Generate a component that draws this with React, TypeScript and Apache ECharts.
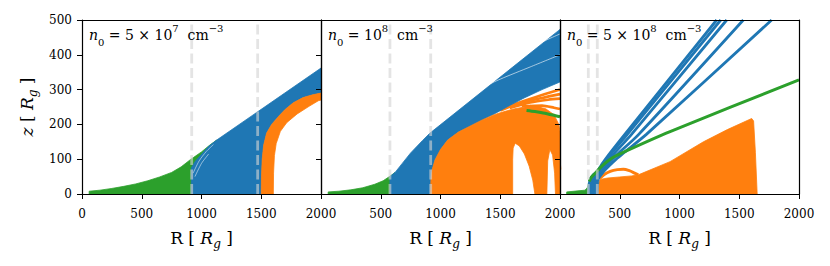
import React, { useEffect, useRef } from 'react';
import * as echarts from 'echarts';

const BLUE = '#1f77b4';
const ORANGE = '#ff7f0e';
const GREEN = '#2ca02c';
const DASH = 'rgba(211,211,211,0.62)';
const STREAK = 'rgba(255,255,255,0.75)';
const FONT = 'DejaVu Serif';

// ---------- axis ranges ----------
const X_MIN = 0, X_MAX = 2000, X_STEP = 500;
const Y_MIN = 0, Y_MAX = 500, Y_STEP = 100;

// ---------- panel titles (density n0) ----------
const PANEL_MANTISSA = ['5 × 10', '10', '5 × 10'];
const PANEL_EXPONENT = ['7', '8', '8'];

// ---------- dashed vertical markers (R) ----------
const P1_DASHES = [918, 1470];
const P2_DASHES = [577, 918];
const P3_DASHES = [237, 312];

// ---------- panel 1 : n0 = 5e7 ----------
const P1_GREEN = [[60, 0], [60, 8], [150, 11], [250, 16], [350, 22], [450, 29], [550, 38], [650, 49], [750, 62], [830, 78], [904, 98], [950, 109], [1000, 121], [1060, 138], [1127, 155], [1127, 0]];
const P1_BLUE = [[915, 0], [915, 75], [950, 95], [1000, 114], [1060, 137], [1127, 155], [2000, 362], [2000, 290], [1930, 285], [1850, 277], [1768, 262], [1700, 243], [1650, 225], [1587, 200], [1545, 175], [1520, 140], [1508, 100], [1502, 50], [1500, 0]];
const P1_ORANGE = [[1500, 0], [1502, 50], [1508, 100], [1520, 140], [1545, 175], [1587, 200], [1650, 225], [1700, 243], [1768, 262], [1850, 277], [1930, 285], [2000, 290], [2000, 270], [1978, 268], [1900, 252], [1800, 230], [1713, 205], [1660, 180], [1625, 145], [1610, 110], [1603, 60], [1601, 0]];
const P1_STREAKS = [
  [[930, 60], [980, 95], [1040, 122], [1100, 142]],
  [[945, 50], [1000, 88], [1060, 115]],
];

// ---------- panel 2 : n0 = 1e8 ----------
const P2_GREEN = [[60, 0], [60, 6], [150, 8], [250, 12], [350, 18], [450, 28], [520, 38], [577, 51], [620, 62], [620, 0]];
const P2_BLUE = [[577, 0], [577, 50], [620, 62], [680, 88], [750, 118], [850, 154], [912, 175], [2000, 473], [2000, 322], [1850, 300], [1700, 276], [1560, 251], [1450, 230], [1350, 213], [1247, 195], [1150, 178], [1060, 155], [1000, 128], [954, 98], [930, 70], [920, 40], [918, 0]];
const P2_ORANGE = [[918, 0], [920, 40], [930, 70], [954, 98], [1000, 128], [1060, 155], [1150, 178], [1247, 195], [1350, 213], [1450, 228], [1526, 236], [1620, 245], [1721, 251], [1800, 252], [1880, 245], [1950, 228], [1990, 200], [2000, 180], [2000, 0], [1962, 0], [1955, 60], [1938, 112], [1915, 128], [1897, 95], [1890, 0], [1790, 0], [1772, 40], [1742, 80], [1702, 115], [1660, 138], [1625, 146], [1608, 132], [1604, 100], [1604, 0]];
const P2_ORANGE_ARCS = [
  [[1450, 236], [1600, 256], [1800, 279], [2000, 300]],
  [[1500, 240], [1650, 259], [1850, 276], [2000, 287]],
  [[1580, 247], [1750, 263], [1900, 271], [2000, 274]],
  [[1680, 252], [1850, 254], [1950, 248], [2000, 244]],
  [[1750, 253], [1880, 238], [1955, 195], [1988, 125], [2000, 70]],
];
const P2_GREEN_LINE = [[1720, 240], [1790, 237], [1860, 233], [1940, 227], [2000, 222]];
const P2_STREAKS = [
  [[1500, 385], [1750, 422], [2000, 460]],
  [[1250, 290], [1500, 330], [1750, 365], [2000, 400]],
];

// ---------- panel 3 : n0 = 5e8 ----------
const P3_GREEN = [[56, 0], [56, 6], [150, 9], [209, 11], [228, 18], [245, 36], [262, 48], [285, 56], [310, 60], [310, 0]];
const P3_BLUE = [[232, 0], [236, 30], [250, 48], [280, 60], [318, 68], [330, 50], [322, 25], [318, 0]];
const P3_BLUE_LINES = [
  [[290, 50], [340, 80], [420, 118], [544, 172], [1311, 500]],
  [[295, 48], [345, 79], [430, 117], [565, 172], [1345, 500]],
  [[300, 45], [355, 76], [445, 113], [600, 172], [1395, 500]],
  [[305, 42], [365, 72], [460, 108], [655, 170], [1534, 500]],
  [[310, 40], [380, 70], [470, 100], [540, 120], [725, 172], [1771, 500]],
];
const P3_GREEN_LINE = [[245, 36], [262, 48], [293, 59], [350, 80], [420, 100], [520, 118], [921, 179], [2000, 328]];
const P3_ORANGE = [[320, 0], [322, 30], [335, 42], [400, 46], [500, 49], [600, 52], [655, 55], [921, 93], [1200, 150], [1400, 185], [1604, 217], [1620, 210], [1635, 120], [1650, 0]];
const P3_ORANGE_LOOP = [[330, 44], [370, 56], [420, 65], [480, 70], [530, 71], [580, 67], [620, 61], [655, 55]];

const GRID_LEFT = [82, 321, 560];

function polygon(idx: number, pts: number[][], color: string, z: number) {
  return {
    type: 'custom',
    xAxisIndex: idx,
    yAxisIndex: idx,
    z,
    silent: true,
    clip: true,
    data: pts,
    renderItem: (params: any, api: any) => {
      if (params.dataIndex !== 0) return null;
      return {
        type: 'polygon',
        shape: { points: pts.map((p) => api.coord(p)) },
        style: { fill: color, stroke: color, lineWidth: 0.8 },
      };
    },
  };
}

function line(idx: number, pts: number[][], color: string, width: number, z: number, dash?: number[]) {
  return {
    type: 'line',
    xAxisIndex: idx,
    yAxisIndex: idx,
    z,
    silent: true,
    symbol: 'none',
    showSymbol: false,
    smooth: dash ? false : 0.25,
    data: pts,
    lineStyle: { color, width, type: dash || 'solid', cap: 'butt' },
  };
}

function dashes(idx: number, xs: number[]) {
  return xs.map((x) => line(idx, [[x, Y_MIN], [x, Y_MAX]], DASH, 2.8, 20, [10, 4.5]));
}

export default function App() {
  const ref = useRef<HTMLDivElement>(null);
  useEffect(() => {
    if (!ref.current) return;
    const chart = echarts.init(ref.current, undefined, { renderer: 'svg' });
    const grids = GRID_LEFT.map((left) => ({ left, top: 20, width: 239, height: 174, containLabel: false }));

    const nameRich = {
      i: { fontStyle: 'italic', fontSize: 17, fontFamily: FONT, color: '#000', lineHeight: 24 },
      sub: { fontStyle: 'italic', fontSize: 12, fontFamily: FONT, color: '#000', lineHeight: 15, verticalAlign: 'bottom' },
    };

    const bottomX = [0, 1, 2].map((i) => ({
      type: 'value', gridIndex: i, position: 'bottom', min: X_MIN, max: X_MAX, interval: X_STEP, z: 10,
      name: 'R [ {i|R}{sub|g} ]', nameLocation: 'middle', nameGap: 31,
      nameTextStyle: { fontFamily: FONT, fontSize: 17, color: '#000', lineHeight: 24, rich: nameRich },
      axisLine: { show: true, onZero: false, lineStyle: { color: '#000', width: 1.2 } },
      axisTick: { show: true, inside: false, length: 5, lineStyle: { color: '#000', width: 1 } },
      axisLabel: { fontFamily: FONT, fontSize: 12, lineHeight: 14, color: '#000', margin: 13, showMinLabel: i === 0, formatter: (v: number) => String(v) },
      splitLine: { show: false },
    }));
    const topX = [0, 1, 2].map((i) => ({
      type: 'value', gridIndex: i, position: 'top', min: X_MIN, max: X_MAX, z: 10,
      axisLine: { show: true, onZero: false, lineStyle: { color: '#000', width: 1.2 } },
      axisTick: { show: false }, axisLabel: { show: false }, splitLine: { show: false },
    }));
    const leftY = [0, 1, 2].map((i) => ({
      type: 'value', gridIndex: i, position: 'left', min: Y_MIN, max: Y_MAX, interval: Y_STEP, z: 10,
      name: i === 0 ? '{i|z} [ {i|R}{sub|g} ]' : '', nameLocation: 'middle', nameGap: 43, nameRotate: 90,
      nameTextStyle: { fontFamily: FONT, fontSize: 17, color: '#000', lineHeight: 24, rich: nameRich },
      axisLine: { show: true, onZero: false, lineStyle: { color: '#000', width: 1.2 } },
      axisTick: { show: true, inside: false, length: 5, lineStyle: { color: '#000', width: 1 } },
      axisLabel: { show: i === 0, fontFamily: FONT, fontSize: 12, color: '#000', margin: 10, formatter: (v: number) => String(v) },
      splitLine: { show: false },
    }));
    const rightY = [0, 1, 2].map((i) => ({
      type: 'value', gridIndex: i, position: 'right', min: Y_MIN, max: Y_MAX, z: 10,
      axisLine: { show: true, onZero: false, lineStyle: { color: '#000', width: 1.2 } },
      axisTick: { show: false }, axisLabel: { show: false }, splitLine: { show: false },
    }));

    const series: any[] = [
      polygon(0, P1_GREEN, GREEN, 2),
      polygon(0, P1_BLUE, BLUE, 3),
      ...P1_STREAKS.map((a) => line(0, a, STREAK, 0.7, 3.5)),
      polygon(0, P1_ORANGE, ORANGE, 4),
      ...dashes(0, P1_DASHES),

      polygon(1, P2_GREEN, GREEN, 2),
      ...P2_ORANGE_ARCS.map((a) => line(1, a, ORANGE, 2.6, 2)),
      polygon(1, P2_BLUE, BLUE, 3),
      ...P2_STREAKS.map((a) => line(1, a, STREAK, 0.8, 3.5)),
      polygon(1, P2_ORANGE, ORANGE, 4),
      line(1, P2_GREEN_LINE, GREEN, 3, 6),
      ...dashes(1, P2_DASHES),

      polygon(2, P3_GREEN, GREEN, 2),
      polygon(2, P3_ORANGE, ORANGE, 3),
      line(2, P3_ORANGE_LOOP, ORANGE, 3, 4),
      polygon(2, P3_BLUE, BLUE, 5),
      ...P3_BLUE_LINES.map((a) => line(2, a, BLUE, 2.8, 5)),
      line(2, P3_GREEN_LINE, GREEN, 3, 6),
      ...dashes(2, P3_DASHES),
    ];

    const annRich = {
      i: { fontStyle: 'italic', fontSize: 14, fontFamily: FONT, fill: '#000', lineHeight: 24 },
      t: { fontSize: 14, fontFamily: FONT, fill: '#000', lineHeight: 24 },
      sub: { fontSize: 10, fontFamily: FONT, fill: '#000', lineHeight: 15, verticalAlign: 'bottom' },
      sup: { fontSize: 10, fontFamily: FONT, fill: '#000', lineHeight: 10, verticalAlign: 'top' },
    };
    const graphic = GRID_LEFT.map((left, i) => ({
      type: 'text', x: left + 7, y: 23, z: 30,
      style: {
        text: `{i|n}{sub|0}{t| = ${PANEL_MANTISSA[i]}}{sup|${PANEL_EXPONENT[i]}}{t|  cm}{sup|−3}`,
        rich: annRich, fontSize: 14, fontFamily: FONT, fill: '#000', verticalAlign: 'top', align: 'left',
      },
    }));

    chart.setOption({
      animation: false,
      backgroundColor: '#fff',
      grid: grids,
      xAxis: [...bottomX, ...topX],
      yAxis: [...leftY, ...rightY],
      series,
      graphic,
    });
    return () => chart.dispose();
  }, []);
  return <div ref={ref} style={{ position: 'fixed', left: 0, top: 0, width: 830, height: 266 }} />;
}
